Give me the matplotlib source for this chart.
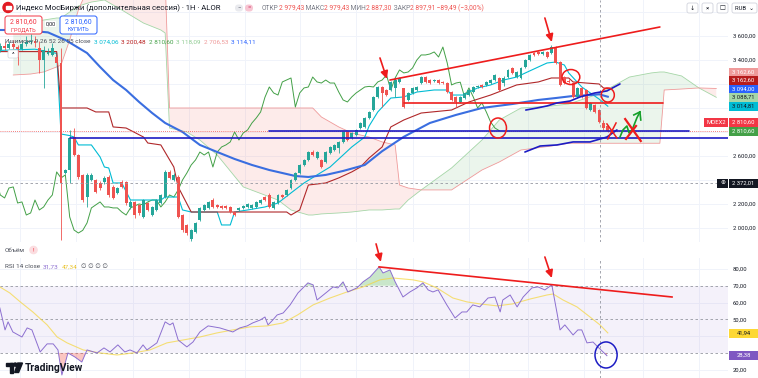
import numpy as np
import matplotlib.pyplot as plt
from matplotlib.patches import Rectangle, FancyBboxPatch, Ellipse, Arc, Circle, Polygon
from matplotlib.transforms import Affine2D

plt.rcParams['font.family'] = ['Roboto', 'DejaVu Sans']

# ---- данные: часовые бары, 0 = большая красная свеча ----
first_bar = -14
opens = [3480, 3520, 3500, 3530, 3510, 3490, 3530, 3550, 3560, 3500,
         3400, 3450, 3440, 3425, 3375, 2458, 2483, 2758, 2608, 2442,
         2258, 2400, 2400, 2375, 2383, 2425, 2342, 2292, 2383, 2383,
         2175, 2217, 2192, 2092, 2208, 2108, 2150, 2208, 2258, 2467,
         2400, 2425, 2108, 2025, 1910, 1967, 2067, 2150, 2167, 2233,
         2192, 2183, 2183, 2175, 2133, 2150, 2167, 2175, 2167, 2175,
         2208, 2258, 2275, 2167, 2208, 2275, 2275, 2333, 2400, 2458,
         2525, 2567, 2633, 2583, 2567, 2550, 2625, 2650, 2667, 2717,
         2800, 2750, 2775, 2833, 2842, 2917, 2983, 3092, 3175, 3150,
         3150, 3167, 3217, 3167, 3067, 3125, 3150, 3208, 3258, 3233,
         3225, 3233, 3217, 3208, 3133, 3092, 3050, 3083, 3108, 3133,
         3175, 3192, 3192, 3208, 3233, 3250, 3208, 3258, 3333, 3258,
         3250, 3342, 3400, 3458, 3467, 3450, 3467, 3458, 3508, 3383,
         3258, 3225, 3208, 3092, 3167, 3150, 2983, 3025, 2983, 2875, 2850]
closes = [3520, 3500, 3530, 3510, 3490, 3530, 3550, 3560, 3540, 3400,
          3485, 3465, 3500, 3375, 2375, 2483, 2750, 2608, 2425, 2233,
          2442, 2442, 2300, 2333, 2417, 2275, 2250, 2333, 2342, 2208,
          2217, 2108, 2125, 2233, 2150, 2175, 2233, 2275, 2467, 2417,
          2442, 2092, 1983, 1958, 1980, 2042, 2167, 2192, 2217, 2175,
          2175, 2167, 2167, 2133, 2108, 2167, 2183, 2200, 2192, 2217,
          2233, 2233, 2175, 2217, 2275, 2258, 2317, 2400, 2458, 2525,
          2567, 2633, 2608, 2633, 2508, 2633, 2675, 2692, 2717, 2800,
          2733, 2792, 2817, 2875, 2917, 2967, 3090, 3175, 3125, 3108,
          3217, 3233, 3250, 3008, 3125, 3167, 3175, 3258, 3217, 3208,
          3233, 3208, 3208, 3133, 3067, 3050, 3092, 3125, 3150, 3175,
          3180, 3175, 3217, 3233, 3275, 3150, 3250, 3317, 3292, 3300,
          3333, 3400, 3442, 3442, 3450, 3467, 3425, 3508, 3375, 3192,
          3208, 3215, 3092, 3167, 3092, 3000, 3042, 2967, 2883, 2833, 2810.6]
highs = [3540, 3550, 3560, 3570, 3525, 3560, 3600, 3620, 3600, 3560,
         3520, 3500, 3540, 3440, 3500, 2490, 2817, 2833, 2620, 2450,
         2460, 2460, 2410, 2390, 2430, 2440, 2360, 2345, 2400, 2395,
         2230, 2225, 2200, 2245, 2215, 2185, 2240, 2285, 2480, 2480,
         2455, 2440, 2115, 2035, 1990, 2050, 2175, 2200, 2225, 2250,
         2200, 2190, 2195, 2185, 2140, 2175, 2190, 2210, 2200, 2225,
         2240, 2270, 2290, 2225, 2285, 2285, 2325, 2410, 2465, 2535,
         2575, 2645, 2650, 2640, 2575, 2640, 2685, 2700, 2725, 2810,
         2810, 2800, 2825, 2885, 2925, 2975, 3100, 3185, 3185, 3160,
         3225, 3258, 3260, 3170, 3135, 3175, 3185, 3265, 3265, 3240,
         3240, 3240, 3225, 3215, 3140, 3100, 3100, 3130, 3160, 3180,
         3190, 3200, 3225, 3240, 3283, 3258, 3267, 3325, 3340, 3310,
         3340, 3410, 3450, 3465, 3475, 3475, 3475, 3525, 3515, 3390,
         3265, 3240, 3215, 3175, 3175, 3158, 3050, 3033, 2990, 2900, 2860]
lows = [3470, 3480, 3490, 3495, 3360, 3480, 3520, 3530, 3510, 3290,
        3167, 3440, 3430, 3360, 1900, 2450, 2375, 2600, 2410, 2220,
        2175, 2390, 2290, 2320, 2370, 2260, 2240, 2280, 2330, 2190,
        2160, 2083, 2110, 2085, 2140, 2100, 2140, 2200, 2250, 2405,
        2390, 2080, 1970, 1940, 1890, 1960, 2060, 2140, 2160, 2165,
        2165, 2160, 2160, 2125, 2100, 2140, 2160, 2170, 2160, 2170,
        2200, 2225, 2165, 2160, 2200, 2250, 2265, 2325, 2395, 2450,
        2515, 2560, 2600, 2575, 2500, 2540, 2615, 2640, 2625, 2710,
        2725, 2740, 2765, 2825, 2835, 2910, 2975, 3085, 3008, 3100,
        3140, 3092, 3210, 3000, 3060, 3120, 3145, 3200, 3210, 3200,
        3215, 3200, 3200, 3125, 3060, 3008, 3040, 3075, 3100, 3125,
        3165, 3170, 3185, 3200, 3225, 3140, 3180, 3250, 3285, 3250,
        3240, 3335, 3395, 3435, 3440, 3445, 3415, 3450, 3370, 3180,
        3200, 3205, 3085, 3085, 3085, 2990, 2975, 2958, 2875, 2817, 2800]

# линии Ишимоку (бар, цена)
tenkan = [(-14, 3480), (-6, 3490), (-1, 3455), (0, 2783), (2, 2770), (3, 2758), (4, 2692),
          (7, 2692), (9, 2592), (10, 2508), (11, 2500), (12, 2375), (14, 2375), (16, 2233),
          (23, 2233), (24, 2258), (27, 2258), (28, 2150), (30, 2133), (36, 2133), (37, 2025),
          (39, 2025), (40, 2133), (43, 2150), (47, 2175), (50, 2208), (53, 2292), (56, 2375),
          (59, 2442), (62, 2508), (65, 2608), (67, 2675), (70, 2758), (71, 2850), (73, 2967),
          (76, 3083), (79, 3092), (82, 3133), (86, 3150), (89, 3150), (90, 3108), (93, 3108),
          (94, 3133), (96, 3167), (99, 3192), (102, 3233), (105, 3258), (107, 3292), (110, 3342),
          (112, 3375), (114, 3383), (116, 3358), (117, 3292), (120, 3175), (124, 3074), (126, 3015)]
kijun = [(-14, 3470), (-1, 3470), (0, 3000), (6, 3000), (8, 2967), (11, 2967), (12, 2842),
         (15, 2833), (19, 2758), (20, 2708), (23, 2692), (26, 2508), (27, 2342), (30, 2133),
         (52, 2133), (53, 2108), (55, 2150), (57, 2358), (61, 2375), (64, 2417), (67, 2467),
         (69, 2508), (71, 2583), (74, 2675), (76, 2842), (79, 2900), (83, 2958), (90, 2983),
         (94, 3050), (99, 3108), (102, 3150), (105, 3192), (110, 3217), (113, 3250), (117, 3250),
         (118, 3217), (121, 3208), (124, 3200), (125, 3167), (126, 3162.6)]
ma55 = [(-14, 3650), (-9, 3650), (-3, 3630), (1, 3567), (6, 3458), (9, 3342), (12, 3233),
        (15, 3150), (18, 3050), (21, 2958), (24, 2875), (28, 2800), (32, 2692), (36, 2633),
        (40, 2575), (44, 2525), (48, 2483), (51, 2458), (54, 2433), (57, 2425), (61, 2442),
        (65, 2475), (70, 2525), (74, 2640), (79, 2760), (85, 2875), (91, 2942), (97, 3000),
        (104, 3033), (110, 3067), (114, 3083), (118, 3100), (122, 3108), (124, 3114), (126, 3094)]
cloud_bars = [-11, -7, -4, -1, 0, 2, 4, 7, 10, 14, 19, 23, 24, 25, 29, 32, 36, 42, 50, 53,
              57, 58, 60, 64, 67, 71, 74, 77, 78, 80, 83, 90, 97, 101, 106, 113, 117, 124,
              131, 136, 138, 139, 143, 147, 151]
span_a = [3717, 3717, 3733, 3750, 3750, 3800, 3850, 3883, 3900, 3817, 3708, 3650, 3625, 2833,
          2800, 2733, 2608, 2342, 2233, 2150, 2108, 2108, 2117, 2125, 2133, 2150, 2150, 2158,
          2158, 2233, 2317, 2500, 2733, 2900, 3000, 3017, 3033, 3118, 3258, 3292, 3300, 3300,
          3267, 3167, 3089]
span_b = [3275, 3283, 3300, 3342, 3358, 3567, 3817, 4067, 4067, 4067, 4067, 4067, 4067, 3000,
          3000, 3000, 3000, 3000, 3000, 3000, 3000, 3000, 2925, 2842, 2792, 2758, 2717, 2692,
          2358, 2333, 2317, 2317, 2483, 2550, 2650, 2683, 2706, 2706, 2706, 2706, 2706, 3150,
          3158, 3167, 3162.6]
lag_shift = 25

rsi = [(-14.1, 56.8), (-12.9, 43.7), (-12.2, 48.5), (-11.1, 42.5), (-9, 39.5), (-7.8, 44.9),
       (-6.7, 43.7), (-4.8, 30.6), (-3.2, 35.4), (-1.8, 35.4), (-0.7, 31.8), (0.2, 16.9),
       (1.6, 30.0), (3.2, 27.6), (4.8, 24.6), (6, 31.8), (8.3, 30.0), (9.9, 33.0), (11.3, 30.6),
       (13.1, 34.8), (14.7, 30.6), (15.9, 31.8), (17.5, 30.0), (18.9, 34.8), (19.8, 31.8),
       (22.1, 36.0), (24, 48.5), (25.1, 46.7), (25.8, 47.9), (27, 37.7), (29, 33.6), (30.4, 36.5),
       (32, 42.5), (33.9, 46.1), (36.6, 44.9), (39.6, 42.5), (41.2, 44.9), (42.9, 46.1),
       (44.2, 47.9), (45.9, 49.6), (47, 51.4), (47.7, 46.7), (48.8, 49.6), (49.8, 52.6),
       (51.2, 53.8), (52.8, 58.6), (54.6, 65.7), (56.9, 71.7), (58.1, 70.5), (59, 61.5),
       (61.3, 66.3), (62.7, 69.3), (63.8, 68.7), (65, 72.3), (66.1, 66.3), (68.2, 68.7),
       (69.6, 72.3), (71.2, 75.2), (73.3, 81.2), (74.2, 77.6), (75.8, 79.4), (77, 72.3),
       (78.8, 63.3), (80.4, 66.3), (82, 68.7), (83.4, 71.7), (84.6, 67.5), (85.7, 66.3),
       (86.9, 67.5), (88.9, 58.6), (90.8, 50.8), (92.4, 54.4), (93.5, 54.4), (94.9, 58.6),
       (96.5, 57.4), (98.4, 62.7), (100, 63.3), (101.2, 54.4), (101.8, 61.5), (103.5, 64.5),
       (105.1, 57.4), (106.5, 63.3), (108.5, 68.7), (109.9, 69.3), (111.5, 67.5), (113.1, 70.5),
       (114.3, 53.8), (115, 43.7), (116.1, 46.7), (118, 40.7), (119.1, 43.7), (120, 43.7),
       (121.2, 36.0), (122.6, 36.5), (123.7, 33.6), (125.8, 28.38)]
rsi_ma = [(-14.1, 69.3), (-11.8, 65.7), (-9.4, 60.4), (-6.5, 54.4), (-3.2, 46.7), (-0.9, 39.5),
          (1.4, 36.0), (5.1, 31.8), (9, 30.0), (12.9, 28.8), (16.6, 30.0), (20.5, 31.8),
          (24.4, 36.0), (28.1, 37.7), (32, 39.5), (35.9, 41.9), (39.6, 43.7), (43.5, 45.5),
          (47.5, 46.1), (51.2, 47.9), (54.5, 52.6), (58.1, 58.6), (62, 62.7), (65.9, 66.3),
          (69.6, 69.3), (73.5, 73.5), (76.5, 74.6), (81.1, 73.5), (83.4, 72.3), (86.6, 68.7),
          (90.3, 62.7), (93.5, 60.4), (96.5, 59.2), (100.5, 58.0), (104.1, 59.2), (108.1, 62.1),
          (112, 64.5), (113.4, 65.1), (115.7, 61.5), (118.9, 57.4), (121.9, 51.4), (124.2, 46.7),
          (126, 41.94)]

price_ticks = [2000, 2200, 2400, 2600, 2800, 3000, 3200, 3400, 3600]
rsi_ticks = [20, 30, 40, 50, 60, 70, 80]
day_lines = [-9.5, 3.5, 16.5, 29.5, 42.5, 55, 68, 81, 94, 107.5, 120.5, 134, 147]
last_price = 2810.60
cross_bar, cross_price = 124.2, 2372.01

# рисунки пользователя (бар, цена / бар, RSI)
trend_up = [(75.8, 3233), (138, 3675)]
support = [(79, 3042), (138.7, 3042)]
blue_lvl1 = [(48, 2806), (144.7, 2806)]
blue_lvl2 = [(2, 2750), (153.7, 2750)]
blue_stroke1 = [(107.1, 2983), (109.7, 3000), (112, 3017), (114.3, 3042), (117.3, 3058),
                (119.6, 3092), (123, 3125), (125.8, 3142), (128.8, 3200)]
blue_stroke2 = [(106.9, 2633), (110.4, 2683), (114.3, 2692), (118, 2717), (121.9, 2717),
                (125.8, 2758), (128.1, 2817)]
green_stroke = [(128.8, 2758), (129.5, 2817), (130.4, 2850), (130.9, 2792), (131.6, 2817),
                (132.7, 2917), (133.4, 2967)]
rsi_trend = [(73.3, 81.2), (140.8, 63.3)]

UP, DN = '#26a69a', '#ef5350'
RED, NAVY = '#ee1c1c', '#1c1cc4'
TXT, GRAY = '#131722', '#787b86'
GRID = '#f0f3fa'

W, H = 758, 378
fig = plt.figure(figsize=(W / 100, H / 100), dpi=100)
fig.patch.set_facecolor('white')
px = Affine2D().scale(1 / W, -1 / H).translate(0, 1) + fig.transFigure

ax = fig.add_axes([0, 1 - 242 / H, 728 / W, 242 / H])
ax2 = fig.add_axes([0, 0, 728 / W, 120 / H])
XL = (-14.06, 153.7)


def fmt(v):
    return f"{v:,.2f}".replace(",", " ").replace(".", ",")


for a in (ax, ax2):
    a.set_xlim(*XL)
    for s in a.spines.values():
        s.set_visible(False)
    a.yaxis.tick_right()
    a.tick_params(axis='y', length=0, pad=3.5, labelsize=4.2, labelcolor=TXT)
    a.tick_params(axis='x', bottom=False, labelbottom=False)
    for d in day_lines:
        a.axvline(d, color=GRID, lw=0.7, zorder=0)
    a.axvline(cross_bar, color='#9598a1', lw=0.6, ls=(0, (3, 3)), zorder=8)

# ---- верхняя панель ----
ax.set_ylim(1883, 3900)
ax.set_yticks(price_ticks)
# подписи, закрытые плашками справа, не выводим
hidden = (2400, 2800, 3000, 3200)
ax.set_yticklabels(['' if v in hidden else fmt(v) for v in price_ticks])
for v in price_ticks + [3800]:
    ax.axhline(v, color=GRID, lw=0.7, zorder=0)

cb, sa, sb = np.array(cloud_bars), np.array(span_a), np.array(span_b)
ax.fill_between(cb, sa, sb, where=sa >= sb, interpolate=True, color='#43a047', alpha=0.1, lw=0, zorder=1)
ax.fill_between(cb, sa, sb, where=sa < sb, interpolate=True, color='#f44336', alpha=0.1, lw=0, zorder=1)
ax.plot(cb, sa, color='#a5d6a7', lw=0.6, zorder=2)
ax.plot(cb, sb, color='#ef9a9a', lw=0.6, zorder=2)

b = np.arange(first_bar, first_bar + len(closes))
o, c, h, l = map(np.array, (opens, closes, highs, lows))
ax.plot(b - lag_shift, c, color='#43a047', lw=0.7, zorder=3)
for line, colr, w in ((tenkan, '#00bcd4', 0.8), (kijun, '#b0282a', 0.8), (ma55, '#3a6ee0', 1.5)):
    xs, ys = np.array(line).T
    ax.plot(xs, ys, color=colr, lw=w, zorder=3)

col = np.where(c >= o, UP, DN)
ax.vlines(b, np.minimum(l, np.minimum(o, c)), np.maximum(h, np.maximum(o, c)), colors=col, lw=0.6, zorder=4)
ax.bar(b, np.maximum(np.abs(c - o), 8), bottom=np.minimum(o, c), width=0.68, color=col, lw=0, zorder=5)

ax.axhline(last_price, color=DN, lw=0.6, ls=(0, (1, 1.5)), zorder=6)
ax.axhline(cross_price, color='#9598a1', lw=0.6, ls=(0, (3, 3)), zorder=8)

# рисунки
for seg, colr in ((trend_up, RED), (support, RED), (blue_lvl1, NAVY), (blue_lvl2, NAVY),
                  (blue_stroke1, NAVY), (blue_stroke2, NAVY), (green_stroke, '#16a02a')):
    xs, ys = np.array(seg).T
    ax.plot(xs, ys, color=colr, lw=1.2, zorder=9, solid_capstyle='round')
ax.plot([133.4, 132.0], [2967, 2942], color='#16a02a', lw=1.2, zorder=9)
ax.plot([133.4, 133.6], [2967, 2900], color='#16a02a', lw=1.2, zorder=9)
ax.plot([125.8, 128.1], [2867, 2750], color=RED, lw=1.1, zorder=9)
ax.plot([127.9, 126.0], [2875, 2742], color=RED, lw=1.1, zorder=9)
ax.plot([130.0, 133.6], [2908, 2725], color=RED, lw=1.6, zorder=9)
ax.plot([130.2, 132.5], [2742, 2850], color=RED, lw=1.6, zorder=9)
ax.add_patch(Ellipse((100.7, 2833), 3.9, 167, fill=False, ec=RED, lw=1.1, zorder=9))
ax.add_patch(Ellipse((117.5, 3258), 4.1, 125, fill=False, ec=RED, lw=1.1, zorder=9))
ax.add_patch(Arc((126, 3108), 3.0, 117, theta1=-110, theta2=200, ec=RED, lw=1.1, zorder=9))
arr = dict(arrowstyle='-|>,head_length=0.45,head_width=0.22', color=RED, lw=1.2, shrinkA=0, shrinkB=0)
ax.annotate('', xy=(75.1, 3242), xytext=(73.5, 3417), arrowprops=arr, annotation_clip=False, zorder=9)
ax.annotate('', xy=(113.1, 3550), xytext=(111.5, 3750), arrowprops=arr, annotation_clip=False, zorder=9)

# ---- RSI ----
ax2.set_ylim(15.1, 86.5)
ax2.set_yticks(rsi_ticks)
ax2.set_yticklabels(['' if v in (30, 40) else fmt(v) for v in rsi_ticks])
for v in (20, 40, 60, 80):
    ax2.axhline(v, color=GRID, lw=0.7, zorder=0)
ax2.axhspan(30, 70, color='#7e57c2', alpha=0.08, lw=0, zorder=0)
for v in (30, 50, 70):
    ax2.axhline(v, color='#9598a1', lw=0.6, ls=(0, (3, 3)), zorder=1)
rb, rv = np.array(rsi).T
ax2.fill_between(rb, rv, 70, where=rv > 70, interpolate=True, color='#4caf50', alpha=0.3, lw=0)
ax2.fill_between(rb, rv, 30, where=rv < 30, interpolate=True, color='#f44336', alpha=0.3, lw=0)
mb, mv = np.array(rsi_ma).T
ax2.plot(mb, mv, color='#f5d63c', lw=0.8, alpha=0.7, zorder=2)
ax2.plot(rb, rv, color='#8c6fd0', lw=0.7, zorder=3)
xs, ys = np.array(rsi_trend).T
ax2.plot(xs, ys, color=RED, lw=1.2, zorder=9)
ax2.annotate('', xy=(73.7, 84.2), xytext=(72.6, 94.9), arrowprops=arr, annotation_clip=False, zorder=9)
ax2.annotate('', xy=(113.1, 74.6), xytext=(111.5, 87.1), arrowprops=arr, annotation_clip=False, zorder=9)
ax2.add_patch(Ellipse((125.6, 28.8), 5.1, 15.5, fill=False, ec=NAVY, lw=1.1, zorder=9))

# ---- подписи справа ----
def tag(y, text, bg, fg, x0=729, x1=758):
    fig.add_artist(Rectangle((x0, y - 4.5), x1 - x0, 9, transform=px, color=bg, lw=0, zorder=5))
    fig.text((x0 + x1) / 2, y, text, transform=px, fontsize=4.2, color=fg,
             ha='center', va='center', zorder=6)


tag(72, '3 162,60', '#ef9a9a', 'white')
tag(80.5, '3 162,60', '#b71c1c', 'white')
tag(89, '3 094,00', '#2962ff', 'white')
tag(97.5, '3 088,71', '#a5d6a7', TXT)
tag(106, '3 014,81', '#00bcd4', TXT)
tag(122, '2 810,60', '#f23645', 'white')
tag(122, 'MOEX2', '#f23645', 'white', 704, 728)
tag(131, '2 810,60', '#43a047', 'white')
tag(183, '2 372,01', TXT, 'white')
tag(183, '⊕', TXT, 'white', 717, 728)
tag(333, '41,94', '#fdd835', TXT)
tag(355.5, '28,38', '#7e57c2', 'white')

# ---- шапка ----
renderer = fig.canvas.get_renderer()


def run_text(x, y, parts, size, gap=0.0):
    for s, colr in parts:
        t = fig.text(x, y, s, transform=px, fontsize=size, color=colr, va='center', ha='left', zorder=7)
        x += t.get_window_extent(renderer).width + gap


fig.add_artist(Circle((8, 7.5), 5, transform=px, color='#e21b23', zorder=6))
fig.add_artist(Rectangle((5.5, 6.3), 5, 2.4, transform=px, color='white', zorder=7))
fig.text(16, 8, 'Индекс МосБиржи (дополнительная сессия) · 1H · ALOR', transform=px,
         fontsize=5.6, color=TXT, va='center', zorder=7)
fig.add_artist(FancyBboxPatch((235, 4.5), 8, 7, boxstyle='round,pad=0,rounding_size=3.5',
                              transform=px, fc='#e9eaee', ec='none', zorder=6))
fig.add_artist(FancyBboxPatch((245, 4.5), 8, 7, boxstyle='round,pad=0,rounding_size=3.5',
                              transform=px, fc='#f7c5d2', ec='none', zorder=6))
fig.text(239, 8, '−', transform=px, fontsize=4.5, color=GRAY, ha='center', va='center', zorder=7)
fig.text(249, 8, '=', transform=px, fontsize=4.5, color='#d23a6a', ha='center', va='center', zorder=7)
run_text(262, 8, [('ОТКР', GRAY), ('2 979,43', DN), (' МАКС', GRAY), ('2 979,43', DN),
                  (' МИН', GRAY), ('2 887,30', DN), (' ЗАКР', GRAY), ('2 897,91', DN),
                  (' −89,49 (−3,00%)', DN)], 4.75)

for x0, g in ((687, '↓'), (702, '×'), (717, '□')):
    fig.add_artist(FancyBboxPatch((x0, 3), 11, 10, boxstyle='round,pad=0,rounding_size=2',
                                  transform=px, fc='white', ec='#d1d4dc', lw=0.6, zorder=6))
    fig.text(x0 + 5.5, 8, g, transform=px, fontsize=4.5, color=TXT, ha='center', va='center', zorder=7)
fig.add_artist(FancyBboxPatch((732, 3), 25, 10, boxstyle='round,pad=0,rounding_size=2',
                              transform=px, fc='white', ec='#d1d4dc', lw=0.6, zorder=6))
fig.text(735, 8, 'RUB  ⌄', transform=px, fontsize=4.2, color=TXT, va='center', zorder=7)

for x0, colr, word in ((5, '#f23645', 'ПРОДАТЬ'), (60, '#2962ff', 'КУПИТЬ')):
    fig.add_artist(FancyBboxPatch((x0, 16), 37, 18, boxstyle='round,pad=0,rounding_size=2.5',
                                  transform=px, fc='white', ec=colr, lw=0.7, zorder=6))
    fig.text(x0 + 18.5, 21.5, '2 810,60', transform=px, fontsize=5, color=colr,
             ha='center', va='center', zorder=7)
    fig.text(x0 + 18.5, 29.5, word, transform=px, fontsize=4, color=colr,
             ha='center', va='center', zorder=7)
fig.text(50.5, 24, '0,00', transform=px, fontsize=4, color=TXT, ha='center', va='center', zorder=7,
         bbox=dict(fc='white', ec='none', pad=0.3))

run_text(5, 42, [('Ишимоку 9 26 52 26 55 close', '#4a4e59'), ('3 074,06', '#00bcd4'),
                 ('3 200,48', '#b71c1c'), ('2 810,60', '#43a047'), ('3 118,09', '#8fcb92'),
                 ('2 706,53', '#ef9a9a'), ('3 114,11', '#2962ff')], 4.6, gap=3)
fig.add_artist(FancyBboxPatch((8, 50), 10, 8, boxstyle='round,pad=0,rounding_size=1.5',
                              transform=px, fc='white', ec='#d1d4dc', lw=0.5, zorder=6))
fig.text(13, 55, '^', transform=px, fontsize=4.5, color=TXT, ha='center', va='center', zorder=7)

# панель объёма (свёрнута) и легенда RSI
fig.text(5, 250, 'Объём', transform=px, fontsize=4.6, color='#4a4e59', va='center')
fig.add_artist(Circle((33.5, 250), 3.6, transform=px, color='#fbdde0', zorder=6))
fig.text(33.5, 250, '!', transform=px, fontsize=4.2, color='#f23645', ha='center', va='center', zorder=7)
run_text(5, 267, [('RSI 14 close', '#4a4e59'), ('31,73', '#8c6fd0'), ('47,34', '#e9c430'),
                  ('∅ ∅ ∅ ∅', '#4a4e59')], 4.6, gap=3)

# логотип TradingView
fig.add_artist(Rectangle((5.5, 363), 7, 3, transform=px, color=TXT, zorder=7))
fig.add_artist(Rectangle((9.5, 363), 3, 9.5, transform=px, color=TXT, zorder=7))
fig.add_artist(Circle((15.3, 364.6), 1.6, transform=px, color=TXT, zorder=7))
fig.add_artist(Polygon([(17.8, 363), (22.5, 363), (18.6, 372.5), (14.6, 372.5)], transform=px,
                       color=TXT, zorder=7))
fig.text(24.5, 368, 'TradingView', transform=px, fontsize=7.4, fontweight='bold', color=TXT,
         va='center', zorder=7)

fig.savefig('out.png', dpi=100, facecolor='white')
